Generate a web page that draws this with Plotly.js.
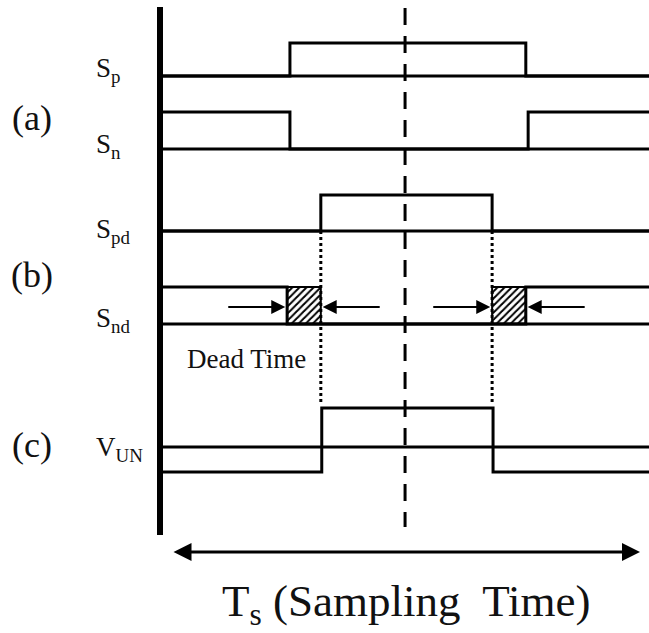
<!DOCTYPE html>
<html>
<head>
<meta charset="utf-8">
<script src="https://cdn.plot.ly/plotly-3.0.1.min.js"></script>
<style>html,body{margin:0;padding:0;background:#fff;}#chart{width:649px;height:633px;}</style>
</head>
<body>
<div id="chart"></div>
<script>
// ---- data (time in units of Ts; 0 = start of sampling period, 1 = end) ----
const signalNames = ['Sp', 'Sn', 'Spd', 'Snd', 'VUN'];
const signalLabels = ['S<sub>p</sub>', 'S<sub>n</sub>', 'S<sub>pd</sub>', 'S<sub>nd</sub>', 'V<sub>UN</sub>'];
const groupLabels = ['(a)', '(b)', '(c)'];
const spEdges = [0.252, 0.756];   const spLevels = [0, 1, 0];
const snEdges = [0.252, 0.761];   const snLevels = [1, 0, 1];
const spdEdges = [0.318, 0.684];  const spdLevels = [0, 1, 0];
const sndEdges = [0.246, 0.756];  const sndLevels = [1, 0, 1];
const vunEdges = [0.320, 0.686];  const vunLevels = [-1, 1, -1];
const centerTime = 0.498;
const periodStart = 0, periodEnd = 1;
const deadTimeLabel = 'Dead Time';
const periodLabel = 'T<sub>s</sub> (Sampling\u00a0 Time)';

// ---- layout constants ----
const W = 649, H = 633;
const x0px = 172, tsPx = 468;               // pixel of t=0 and width of Ts
const xRange = [-x0px / tsPx, (W - x0px) / tsPx];
const tAxis = (160 - x0px) / tsPx;           // thick vertical axis
const tEnd = xRange[1] + 0.01;
const rows = {
  Sp:  {base: 76,  up: 33, down: 0},
  Sn:  {base: 149, up: 37, down: 0},
  Spd: {base: 231, up: 36, down: 0},
  Snd: {base: 324, up: 37, down: 0},
  VUN: {base: 447, up: 39, down: 25}
};
const FONT = 'Liberation Serif, Times New Roman, serif';

function yOf(name, lvl) {
  const r = rows[name];
  return lvl >= 0 ? r.base - lvl * r.up : r.base - lvl * r.down;
}
function stepTrace(name, edges, levels) {
  const xs = [tAxis].concat(edges).concat([tEnd]);
  const ys = levels.map(l => yOf(name, l)).concat([yOf(name, levels[levels.length - 1])]);
  return {x: xs, y: ys, mode: 'lines', line: {shape: 'hv', color: '#000', width: 3}, hoverinfo: 'skip', showlegend: false};
}
function baseTrace(name) {
  return {x: [tAxis, tEnd], y: [rows[name].base, rows[name].base], mode: 'lines',
          line: {color: '#000', width: 3}, hoverinfo: 'skip', showlegend: false};
}
function hatchTrace(t1, t2) {
  const yt = yOf('Snd', 1), yb = yOf('Snd', 0);
  return {x: [t1, t2, t2, t1, t1], y: [yb, yb, yt, yt, yb], mode: 'lines', fill: 'toself',
          fillcolor: 'rgba(0,0,0,0)',
          fillpattern: {shape: '/', fgcolor: '#000', bgcolor: '#fff', size: 5, solidity: 0.4},
          line: {color: '#000', width: 2}, hoverinfo: 'skip', showlegend: false};
}

const traces = [];
// hatched dead-time regions
traces.push(hatchTrace(sndEdges[0], spdEdges[0]));
traces.push(hatchTrace(spdEdges[1], sndEdges[1]));
// baselines
signalNames.forEach(n => traces.push(baseTrace(n)));
// waveforms
traces.push(stepTrace('Sp', spEdges, spLevels));
traces.push(stepTrace('Sn', snEdges, snLevels));
traces.push(stepTrace('Spd', spdEdges, spdLevels));
traces.push(stepTrace('Snd', sndEdges, sndLevels));
traces.push(stepTrace('VUN', vunEdges, vunLevels));
// dotted projection lines from Spd edges to VUN
spdEdges.forEach(t => traces.push({x: [t, t], y: [rows.Spd.base, yOf('VUN', 1) - 3], mode: 'lines',
  line: {color: '#000', width: 3, dash: '3px,3px'}, hoverinfo: 'skip', showlegend: false}));
// dashed center line
traces.push({x: [centerTime, centerTime], y: [8, 527], mode: 'lines',
  line: {color: '#000', width: 3, dash: '17px,11px'}, hoverinfo: 'skip', showlegend: false});
// thick vertical axis
traces.push({x: [tAxis, tAxis], y: [7, 535], mode: 'lines',
  line: {color: '#000', width: 6}, hoverinfo: 'skip', showlegend: false});

const annotations = [];
// dead-time arrows
const arrLen = 0.125, arrY = 307, gap = 0.004;
const deadArrows = [
  {head: sndEdges[0] - gap, dir: 1},
  {head: spdEdges[0] + gap, dir: -1},
  {head: spdEdges[1] - gap, dir: 1},
  {head: sndEdges[1] + gap, dir: -1}
];
deadArrows.forEach(a => annotations.push({
  x: a.head, y: arrY, ax: a.head - a.dir * arrLen, ay: arrY, xref: 'x', yref: 'y', axref: 'x', ayref: 'y',
  showarrow: true, arrowhead: 2, arrowsize: 1.4, arrowwidth: 2, arrowcolor: '#000', standoff: 0, text: ''
}));
// sampling-period double arrow
annotations.push({
  x: periodEnd, y: 552, ax: periodStart, ay: 552, xref: 'x', yref: 'y', axref: 'x', ayref: 'y',
  showarrow: true, arrowhead: 2, startarrowhead: 2, arrowside: 'end+start', arrowsize: 1.2, startarrowsize: 1.2,
  arrowwidth: 3, arrowcolor: '#000', standoff: 0, startstandoff: 0, text: ''
});
// group labels
const groupY = [118, 275, 445];
groupLabels.forEach((g, i) => annotations.push({
  text: g, x: 32 / W, xref: 'paper', y: groupY[i], yref: 'y', showarrow: false,
  xanchor: 'center', yanchor: 'middle', font: {family: FONT, size: 36, color: '#111'}
}));
// signal labels
const labelY = [70, 146, 231, 320, 449];
signalLabels.forEach((s, i) => annotations.push({
  text: s, x: 94 / W, xref: 'paper', y: labelY[i], yref: 'y', showarrow: false,
  xanchor: 'left', yanchor: 'middle', font: {family: FONT, size: 27, color: '#111'}
}));
// dead time label
annotations.push({text: deadTimeLabel, x: 246 / W, xref: 'paper', y: 359, yref: 'y', showarrow: false,
  xanchor: 'center', yanchor: 'middle', font: {family: FONT, size: 27, color: '#111'}});
// period label
annotations.push({text: periodLabel, x: (periodStart + periodEnd) / 2, xref: 'x', y: 604, yref: 'y', showarrow: false,
  xanchor: 'center', yanchor: 'middle', font: {family: FONT, size: 45, color: '#111'}});

const layout = {
  width: W, height: H,
  margin: {l: 0, r: 0, t: 0, b: 0},
  paper_bgcolor: '#fff', plot_bgcolor: '#fff',
  xaxis: {range: xRange, visible: false, fixedrange: true},
  yaxis: {range: [H, 0], visible: false, fixedrange: true},
  showlegend: false,
  annotations: annotations
};
Plotly.newPlot('chart', traces, layout, {staticPlot: true, displayModeBar: false});
</script>
</body>
</html>
